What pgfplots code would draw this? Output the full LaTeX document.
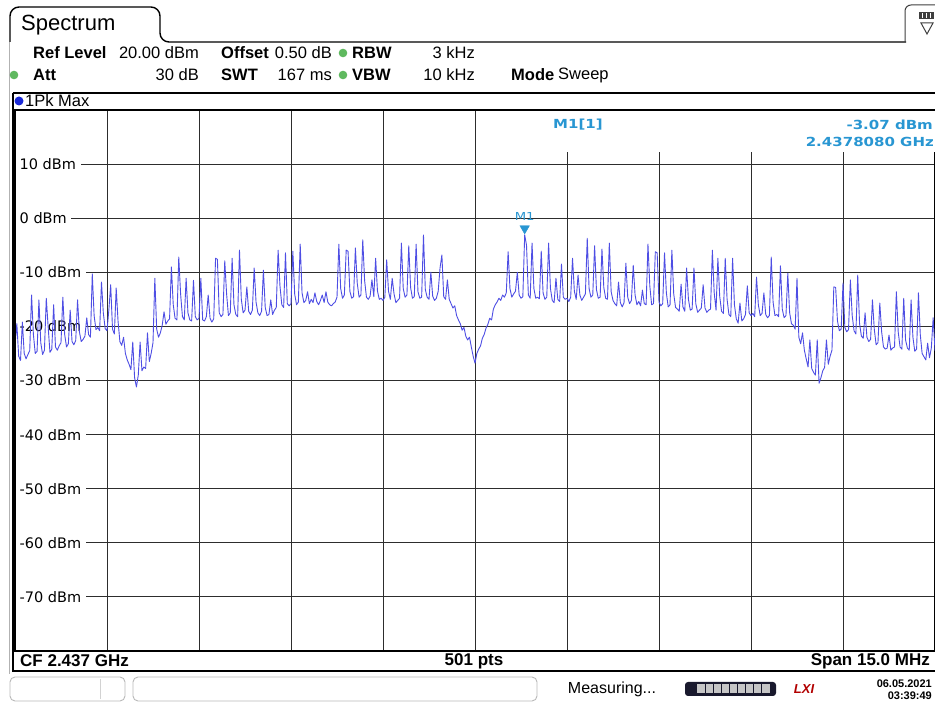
\documentclass[border=0pt]{standalone}
\usepackage{graphicx}
\usepackage{pgfplots}
\pgfplotsset{compat=1.18}
\usepackage{pgfplotstable}
\usepackage{fontspec}
\setmainfont{Liberation Sans}
\newfontfamily\dejavu{DejaVu Sans}
\definecolor{trace}{RGB}{78,78,228}
\definecolor{mk}{RGB}{40,150,210}
\definecolor{gridc}{RGB}{45,45,45}
\definecolor{led}{RGB}{95,185,95}
\definecolor{dotblue}{RGB}{25,40,215}
\definecolor{navy}{RGB}{25,25,45}

% trace: point index (501 pts, span 15 MHz around 2.437 GHz) vs level in dBm
\pgfplotstableread{
idx dbm
0 -23.5
1 -19.5
2 -25.5
3 -26.3
4 -19.2
5 -25.0
6 -26.0
7 -25.2
8 -24.5
9 -14.2
10 -21.5
11 -25.0
12 -24.6
13 -15.1
14 -23.0
15 -25.2
16 -24.4
17 -14.8
18 -20.0
19 -24.8
20 -24.2
21 -16.0
22 -23.8
23 -24.4
24 -23.6
25 -23.0
26 -14.6
27 -21.5
28 -23.8
29 -23.2
30 -17.0
31 -22.8
32 -23.4
33 -22.6
34 -15.1
35 -21.0
36 -22.8
37 -22.4
38 -21.8
39 -18.4
40 -21.5
41 -22.0
42 -10.3
43 -18.0
44 -20.6
45 -20.2
46 -20.8
47 -11.8
48 -17.5
49 -20.4
50 -20.8
51 -17.0
52 -12.3
53 -20.5
54 -21.4
55 -12.9
56 -19.0
57 -22.8
58 -23.5
59 -22.0
60 -25.0
61 -26.2
62 -27.0
63 -28.0
64 -22.9
65 -29.5
66 -31.2
67 -29.0
68 -22.9
69 -28.2
70 -27.5
71 -27.8
72 -21.2
73 -26.5
74 -25.0
75 -23.0
76 -11.1
77 -20.5
78 -22.0
79 -21.2
80 -19.8
81 -17.3
82 -19.6
83 -19.0
84 -18.6
85 -9.0
86 -16.0
87 -18.5
88 -18.8
89 -7.2
90 -14.0
91 -18.2
92 -18.8
93 -11.1
94 -17.5
95 -18.8
96 -19.0
97 -11.5
98 -18.2
99 -18.8
100 -18.5
101 -11.1
102 -18.8
103 -19.0
104 -18.2
105 -14.2
106 -18.5
107 -19.2
108 -18.6
109 -7.4
110 -7.6
111 -17.5
112 -18.2
113 -17.8
114 -7.9
115 -14.0
116 -18.0
117 -17.5
118 -7.4
119 -16.0
120 -17.8
121 -18.2
122 -5.9
123 -15.0
124 -17.5
125 -17.0
126 -12.7
127 -17.2
128 -17.8
129 -17.0
130 -9.2
131 -15.5
132 -17.5
133 -18.0
134 -17.2
135 -9.6
136 -16.5
137 -18.0
138 -17.8
139 -15.1
140 -17.8
141 -17.0
142 -16.5
143 -5.9
144 -12.5
145 -16.0
146 -16.5
147 -6.4
148 -15.8
149 -16.2
150 -15.8
151 -6.1
152 -14.0
153 -16.0
154 -15.5
155 -4.8
156 -13.8
157 -15.6
158 -15.2
159 -13.6
160 -15.8
161 -15.0
162 -15.6
163 -13.8
164 -15.4
165 -16.0
166 -15.2
167 -14.2
168 -15.6
169 -13.6
170 -15.5
171 -16.0
172 -16.2
173 -15.8
174 -15.5
175 -14.6
176 -4.8
177 -13.0
178 -14.8
179 -14.2
180 -5.9
181 -6.1
182 -13.5
183 -14.8
184 -14.5
185 -5.5
186 -12.0
187 -14.6
188 -14.2
189 -4.0
190 -11.5
191 -14.6
192 -15.0
193 -14.4
194 -11.4
195 -14.5
196 -7.4
197 -13.5
198 -15.0
199 -14.8
200 -15.2
201 -14.6
202 -7.7
203 -13.5
204 -15.0
205 -11.1
206 -14.0
207 -15.6
208 -15.2
209 -14.8
210 -4.6
211 -13.0
212 -14.6
213 -14.2
214 -5.1
215 -12.8
216 -14.8
217 -14.5
218 -4.8
219 -13.6
220 -14.8
221 -14.6
222 -3.1
223 -13.2
224 -14.6
225 -15.0
226 -10.0
227 -14.4
228 -15.2
229 -14.8
230 -13.5
231 -9.2
232 -6.8
233 -14.5
234 -15.0
235 -11.4
236 -15.0
237 -15.8
238 -16.6
239 -16.2
240 -18.0
241 -18.8
242 -19.5
243 -20.7
244 -20.2
245 -21.8
246 -22.5
247 -22.0
248 -23.8
249 -25.5
250 -26.8
251 -25.0
252 -24.2
253 -23.6
254 -22.2
255 -21.5
256 -20.3
257 -19.6
258 -18.5
259 -18.8
260 -16.8
261 -16.0
262 -15.5
263 -14.8
264 -15.2
265 -14.2
266 -14.6
267 -13.8
268 -6.2
269 -13.0
270 -14.6
271 -14.0
272 -13.5
273 -10.0
274 -14.2
275 -14.8
276 -14.5
277 -3.07
278 -5.0
279 -14.2
280 -14.8
281 -4.6
282 -13.0
283 -14.8
284 -14.6
285 -14.9
286 -6.1
287 -13.8
288 -15.0
289 -14.6
290 -4.6
291 -13.0
292 -15.2
293 -15.6
294 -11.1
295 -15.0
296 -15.4
297 -8.5
298 -14.6
299 -15.0
300 -14.8
301 -15.4
302 -14.6
303 -7.4
304 -13.5
305 -15.0
306 -10.5
307 -14.2
308 -15.2
309 -14.6
310 -14.0
311 -3.7
312 -13.0
313 -14.6
314 -14.2
315 -5.1
316 -13.2
317 -14.8
318 -14.6
319 -5.7
320 -12.8
321 -14.8
322 -15.0
323 -4.6
324 -13.6
325 -15.2
326 -15.8
327 -16.2
328 -11.8
329 -15.6
330 -16.4
331 -15.6
332 -8.3
333 -14.6
334 -15.8
335 -15.2
336 -8.7
337 -14.2
338 -16.0
339 -15.4
340 -16.2
341 -13.3
342 -15.8
343 -16.0
344 -4.8
345 -12.5
346 -16.0
347 -15.8
348 -6.2
349 -6.4
350 -15.5
351 -16.2
352 -15.8
353 -6.4
354 -13.8
355 -16.4
356 -16.0
357 -5.9
358 -14.0
359 -16.5
360 -16.8
361 -17.2
362 -12.2
363 -16.4
364 -17.2
365 -9.2
366 -15.0
367 -17.0
368 -16.8
369 -9.2
370 -15.8
371 -17.4
372 -17.0
373 -16.6
374 -12.3
375 -16.6
376 -17.4
377 -17.0
378 -16.8
379 -5.9
380 -13.8
381 -17.0
382 -7.4
383 -14.5
384 -17.2
385 -17.6
386 -7.4
387 -15.0
388 -17.8
389 -18.2
390 -7.4
391 -16.0
392 -18.6
393 -19.4
394 -15.7
395 -19.0
396 -18.6
397 -17.8
398 -12.5
399 -17.5
400 -18.0
401 -17.6
402 -18.2
403 -10.9
404 -16.0
405 -18.0
406 -17.6
407 -13.8
408 -17.8
409 -18.4
410 -18.0
411 -7.2
412 -15.5
413 -18.0
414 -17.8
415 -18.2
416 -8.8
417 -16.8
418 -18.4
419 -18.0
420 -10.2
421 -17.5
422 -19.5
423 -19.8
424 -20.5
425 -11.1
426 -22.0
427 -23.2
428 -21.2
429 -24.4
430 -26.0
431 -27.5
432 -22.5
433 -27.8
434 -28.5
435 -29.0
436 -22.5
437 -30.5
438 -29.5
439 -28.2
440 -27.6
441 -22.5
442 -27.0
443 -25.5
444 -24.4
445 -12.7
446 -12.8
447 -19.0
448 -20.8
449 -20.5
450 -12.0
451 -20.2
452 -21.0
453 -20.6
454 -11.4
455 -18.0
456 -20.8
457 -21.4
458 -10.5
459 -19.5
460 -21.8
461 -22.2
462 -17.5
463 -22.0
464 -22.8
465 -22.4
466 -15.1
467 -20.5
468 -23.4
469 -23.0
470 -15.7
471 -21.0
472 -23.8
473 -24.2
474 -24.0
475 -21.6
476 -24.4
477 -24.0
478 -23.8
479 -13.6
480 -21.0
481 -23.8
482 -24.2
483 -14.8
484 -22.5
485 -24.0
486 -24.4
487 -15.1
488 -22.0
489 -24.6
490 -24.2
491 -13.8
492 -21.5
493 -25.0
494 -25.6
495 -26.2
496 -23.1
497 -25.8
498 -24.0
499 -18.4
500 -24.5
}\tracedata

\begin{document}
\begin{tikzpicture}[x=1pt,y=1pt]
\useasboundingbox (0,0) rectangle (935,704);
\begin{scope}
\clip (0,0) rectangle (935,704);
\fill[white] (0,0) rectangle (935,704);

% window border and tab
\draw[gray!60, line width=1] (9,662) -- (9,30);
\draw[black, line width=1.4, rounded corners=9] (10,662) -- (10,697) -- (160,697) -- (160,662) -- (906,662);
\node[anchor=west, inner sep=0, font=\fontsize{22}{24}\selectfont] at (21,679) {Spectrum};

% top-right icon
\draw[gray!50!black, line width=1, rounded corners=6] (905,662) -- (905,699) -- (945,699);
\fill[gray!50!black] (919,692) rectangle (934,685);
\foreach \xx in {922.5,926.5,930.5} \draw[white, line width=0.8] (\xx,691) -- (\xx,686);
\draw[gray!50!black, line width=1] (921,681) -- (933,681) -- (927,670) -- cycle;

% header rows
\begin{scope}[every node/.style={inner sep=0, font=\fontsize{16.5}{18}\selectfont}]
\node[anchor=west] at (33,651) {\bfseries Ref Level};
\node[anchor=east] at (199,651) {20.00 dBm};
\node[anchor=west] at (221,651) {\bfseries Offset};
\node[anchor=east] at (332,651) {0.50 dB};
\node[anchor=west] at (352,651) {\bfseries RBW};
\node[anchor=east] at (475,651) {3 kHz};
\node[anchor=west] at (33,629) {\bfseries Att};
\node[anchor=east] at (199,629) {30 dB};
\node[anchor=west] at (221,629) {\bfseries SWT};
\node[anchor=east] at (332,629) {167 ms};
\node[anchor=west] at (352,629) {\bfseries VBW};
\node[anchor=east] at (475,629) {10 kHz};
\node[anchor=west] at (511,629) {\bfseries Mode};
\node[anchor=west] at (558,629) {Sweep};
\end{scope}
\fill[led] (343,651) circle (4.3);
\fill[led] (343,629) circle (4.3);
\fill[led] (14,629) circle (4.3);

% diagram frame
\draw[black, line width=2] (12.5,611) -- (12.5,33) -- (945,33);
\draw[black, line width=2] (12.5,611) -- (945,611);
\fill[dotblue] (19,603) circle (4.5);
\node[anchor=west, inner sep=0, font=\fontsize{16.5}{18}\selectfont] at (25,603) {1Pk Max};

\begin{axis}[
  at={(15pt,53pt)}, anchor=south west,
  width=920pt, height=541pt, scale only axis,
  xmin=0, xmax=500, ymin=-80, ymax=20,
  xtick={50,100,...,450}, ytick={-70,-60,...,10},
  xticklabels={}, yticklabels={},
  major tick length=0pt,
  grid=major,
  grid style={gridc, line width=0.95pt},
  axis line style={black, line width=1.8pt},
]
\begin{scope}[every node/.style={anchor=west, fill=white, inner xsep=4.5pt, inner ysep=1.5pt, font=\dejavu\fontsize{14.5}{15}\selectfont}]
\node at (axis cs:0,10) {10 dBm};
\node at (axis cs:0,0) {0 dBm};
\node at (axis cs:0,-10) {-10 dBm};
\node at (axis cs:0,-20) {-20 dBm};
\node at (axis cs:0,-30) {-30 dBm};
\node at (axis cs:0,-40) {-40 dBm};
\node at (axis cs:0,-50) {-50 dBm};
\node at (axis cs:0,-60) {-60 dBm};
\node at (axis cs:0,-70) {-70 dBm};
\end{scope}
\addplot[trace, line width=0.9pt, line join=round] table[x=idx, y=dbm] {\tracedata};
\addplot[only marks, mark=triangle*, mark size=5.5pt, mark options={rotate=180, fill=mk, draw=mk}] coordinates {(277,-1.9)};
\node[text=mk, inner sep=0, font=\dejavu\fontsize{11}{11}\selectfont] at (axis cs:277,0.3) {\scalebox{1.2}[1]{M1}};
\end{axis}
% left plot border redrawn over the label backgrounds
\draw[black, line width=1.8] (15,53) -- (15,594);

% marker info box
\fill[white] (478,592.6) rectangle (936,552);
\begin{scope}[every node/.style={inner sep=0, text=mk, font=\dejavu\bfseries\fontsize{12.5}{13}\selectfont}]
\node[anchor=west] at (553,579.5) {\scalebox{1.2}[1]{M1[1]}};
\node[anchor=east] at (933,579.5) {\scalebox{1.2}[1]{-3.07 dBm}};
\node[anchor=east] at (934,562) {\scalebox{1.2}[1]{2.4378080 GHz}};
\end{scope}

% footer
\begin{scope}[every node/.style={inner sep=0, font=\bfseries\fontsize{17}{19}\selectfont}]
\node[anchor=west] at (20,43) {CF 2.437 GHz};
\node at (474,43) {501 pts};
\node[anchor=east] at (930,43) {Span 15.0 MHz};
\end{scope}

% status bar
\draw[gray!55, line width=0.9, rounded corners=5] (10,3) rectangle (125,27);
\draw[gray!35, line width=0.7] (100,5) -- (100,25);
\draw[gray!55, line width=0.9, rounded corners=5] (133,3) rectangle (537,27);
\node[inner sep=0, font=\fontsize{16}{18}\selectfont] at (612,15) {Measuring...};
\fill[navy, rounded corners=3] (685,8) rectangle (776,22);
\fill[gray!45] (697,10.5) rectangle (770,19.5);
\foreach \xx in {705,713,...,765} \draw[navy, line width=0.8] (\xx,10.5) -- (\xx,19.5);
\node[inner sep=0, text=red!70!black, font=\bfseries\itshape\fontsize{13}{13}\selectfont] at (804,15) {LXI};
\node[anchor=east, inner sep=0, font=\bfseries\fontsize{11}{12}\selectfont] at (932,20) {06.05.2021};
\node[anchor=east, inner sep=0, font=\bfseries\fontsize{11}{12}\selectfont] at (932,8) {03:39:49};
\end{scope}
\end{tikzpicture}
\end{document}
